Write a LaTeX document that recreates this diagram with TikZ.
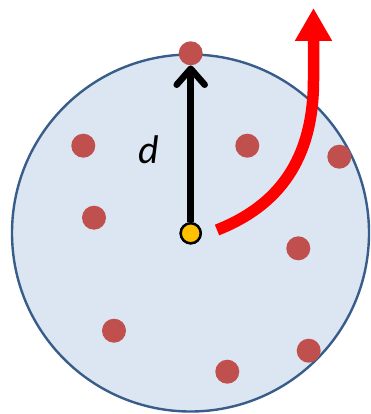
\documentclass[tikz,border=0pt]{standalone}
\usepackage{fontspec}
\setmainfont{Carlito}
\usepackage{tikz}
\usetikzlibrary{arrows.meta,positioning}
\definecolor{cellfill}{RGB}{220,230,242}
\definecolor{celledge}{RGB}{56,93,138}
\definecolor{dotred}{RGB}{192,80,77}
\definecolor{dotyellow}{RGB}{255,192,0}

\tikzset{
  neighbour/.style={circle, fill=dotred, minimum size=24pt, inner sep=0pt},
  origin/.style={circle, fill=dotyellow, draw=black, line width=2.4pt, minimum size=20pt, inner sep=0pt}
}

\begin{document}
\begin{tikzpicture}[x=1pt,y=-1pt]
			\useasboundingbox (0,0) rectangle (370,414);
			% the disc
			\draw[fill=cellfill, draw=celledge, line width=2.4pt] (190.5,233) circle[radius=178.5];
			
			\node[neighbour] (n1) at (190.7,53.3) {};
			\node[neighbour] (n2) at (83.3,145.7) {};
			\node[neighbour] (n3) at (247.3,145.7) {};
			\node[neighbour] (n4) at (339.3,156.7) {};
			\node[neighbour] (n5) at (94,217.7) {};
			\node[neighbour] (n6) at (298.3,248.3) {};
			\node[neighbour] (n7) at (114,330.7) {};
			\node[neighbour] (n8) at (227.3,371.7) {};
			\node[neighbour] (n9) at (308.7,350.7) {};
			
			\node[origin] (ctr) at (190.7,233.3) {};
			\draw[-{Straight Barb[length=16pt, width=28pt, round]}, line width=6.5pt] (ctr.north) -- (n1.south);
			\node[origin] at (ctr) {};
			\node (dlbl) at (149,150) {\fontsize{40}{40}\selectfont\itshape d};
			
			% escape path
			\coordinate (start) at (217,230);
			\coordinate (exit) at (313.5,8);
			\draw[red, line width=11.5pt, -{Triangle[length=33pt, width=35pt]}] (start) .. controls (278,206) and (313.5,160) .. (313.5,80) -- (exit);
		\end{tikzpicture}
\end{document}
